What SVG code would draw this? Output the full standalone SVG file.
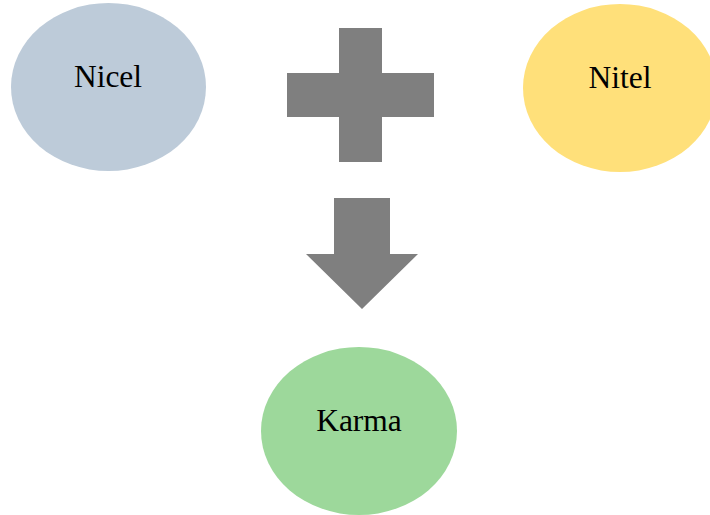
<svg xmlns="http://www.w3.org/2000/svg" width="710" height="515" viewBox="0 0 710 515">
<style>
.lbl{font-family:"Liberation Serif","Times New Roman",serif;font-size:31.5px;fill:#000;text-anchor:middle}
.sym{fill:#7F7F7F}
</style>
<rect width="710" height="515" fill="#fff"/>
<g id="nicel">
<ellipse cx="108.5" cy="87" rx="97.5" ry="84" fill="#BDCBD9"/>
<text class="lbl" x="108" y="87">Nicel</text>
</g>
<g id="nitel">
<ellipse cx="620" cy="88" rx="97" ry="84" fill="#FFE07A"/>
<text class="lbl" x="620" y="88">Nitel</text>
</g>
<g id="karma">
<ellipse cx="359" cy="431" rx="98" ry="84" fill="#9DD89B"/>
<text class="lbl" x="359" y="431">Karma</text>
</g>
<g id="connectors">
<path class="sym" d="M339,28 H382 V73 H434 V117 H382 V162 H339 V117 H287 V73 H339 Z"/>
<path class="sym" d="M334,198 H390 V254 H418 L362,309 L306,254 H334 Z"/>
</g>
</svg>
